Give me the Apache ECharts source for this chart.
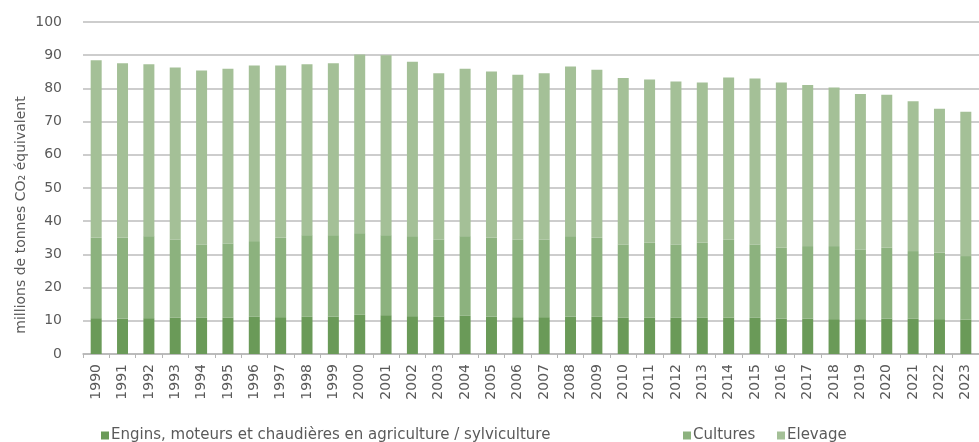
<!DOCTYPE html>
<html>
<head>
<meta charset="utf-8">
<script src="https://cdn.jsdelivr.net/npm/echarts@6/dist/echarts.min.js"></script>
<style>
  html, body { margin: 0; padding: 0; background: #ffffff; }
  #chart { width: 979px; height: 442px; }
</style>
</head>
<body>
<div id="chart"></div>
<script>
// Émissions de gaz à effet de serre de l'agriculture, par poste (Mt CO2e)
var years = ['1990', '1991', '1992', '1993', '1994', '1995', '1996', '1997', '1998', '1999',
             '2000', '2001', '2002', '2003', '2004', '2005', '2006', '2007', '2008', '2009',
             '2010', '2011', '2012', '2013', '2014', '2015', '2016', '2017', '2018', '2019',
             '2020', '2021', '2022', '2023'];

var engins = [10.8, 10.7, 10.8, 11.0, 10.9, 11.0, 11.2, 11.1, 11.2, 11.3,
              11.8, 11.7, 11.4, 11.2, 11.5, 11.3, 11.1, 11.1, 11.3, 11.2,
              11.0, 11.0, 10.9, 10.9, 11.0, 10.9, 10.7, 10.7, 10.5, 10.5,
              10.7, 10.6, 10.5, 10.4];

var cultures = [24.2, 24.3, 24.7, 23.5, 22.1, 22.3, 22.8, 23.9, 24.6, 24.5,
                24.6, 24.1, 24.1, 23.3, 24.0, 23.7, 23.4, 23.4, 24.2, 23.8,
                22.0, 22.5, 22.1, 22.6, 23.5, 22.1, 21.3, 21.8, 22.0, 21.0,
                21.3, 20.4, 20.0, 19.1];

var elevage = [53.5, 52.6, 51.8, 51.8, 52.4, 52.6, 52.9, 51.9, 51.5, 51.8,
               53.8, 54.2, 52.5, 50.1, 50.4, 50.1, 49.6, 50.1, 51.1, 50.6,
               50.1, 49.2, 49.1, 48.3, 48.8, 50.0, 49.8, 48.5, 47.8, 46.8,
               46.1, 45.1, 43.4, 43.5];

var yTicks = [0, 10, 20, 30, 40, 50, 60, 70, 80, 90, 100];

var names = [
  'Engins, moteurs et chaudières en agriculture / sylviculture',
  'Cultures',
  'Elevage'
];
var yTitle = 'millions de tonnes CO₂ équivalent';
var colors = ['#6a9a58', '#8cb27e', '#a4c097'];

var font = '"DejaVu Sans", "Open Sans", sans-serif';
var textColor = '#5a5a5a';

function legendAt(name, left) {
  return {
    data: [name],
    left: left,
    top: 423,
    icon: 'rect',
    itemWidth: 8,
    itemHeight: 8,
    itemGap: 4,
    textStyle: { fontFamily: font, fontSize: 15, color: textColor, padding: [0, 0, 0, -3] }
  };
}

function makeSeries(idx, values) {
  return {
    name: names[idx],
    type: 'bar',
    stack: 'total',
    barWidth: 11,
    itemStyle: { color: colors[idx] },
    data: values
  };
}

var chart = echarts.init(document.getElementById('chart'), null, { renderer: 'canvas' });
chart.setOption({
  animation: false,
  color: colors,
  textStyle: { fontFamily: font },
  legend: [
    legendAt(names[0], 96),
    legendAt(names[1], 678),
    legendAt(names[2], 772)
  ],
  graphic: [{
    type: 'text',
    x: 21,
    y: 215,
    rotation: Math.PI / 2,
    style: {
      text: yTitle,
      fontFamily: font,
      fontSize: 14,
      fill: textColor,
      align: 'center',
      verticalAlign: 'middle'
    }
  }],
  grid: { left: 83, top: 22, width: 900, height: 332, containLabel: false },
  xAxis: {
    type: 'category',
    data: years,
    boundaryGap: true,
    axisLine: { lineStyle: { color: '#b5b5b5', width: 1.5 } },
    axisTick: { show: true, alignWithLabel: false, length: 4, lineStyle: { color: '#b5b5b5' } },
    axisLabel: {
      rotate: 90,
      interval: 0,
      margin: 10,
      fontFamily: font,
      fontSize: 14,
      color: textColor
    }
  },
  yAxis: {
    type: 'value',
    min: yTicks[0],
    max: yTicks[yTicks.length - 1],
    interval: yTicks[1] - yTicks[0],
    axisLine: { show: false },
    axisTick: { show: false },
    axisLabel: { margin: 21, fontFamily: font, fontSize: 14, color: textColor },
    splitLine: { lineStyle: { color: '#bcbcbc', width: 1.5 } }
  },
  series: [
    makeSeries(0, engins),
    makeSeries(1, cultures),
    makeSeries(2, elevage)
  ]
});
</script>
</body>
</html>
